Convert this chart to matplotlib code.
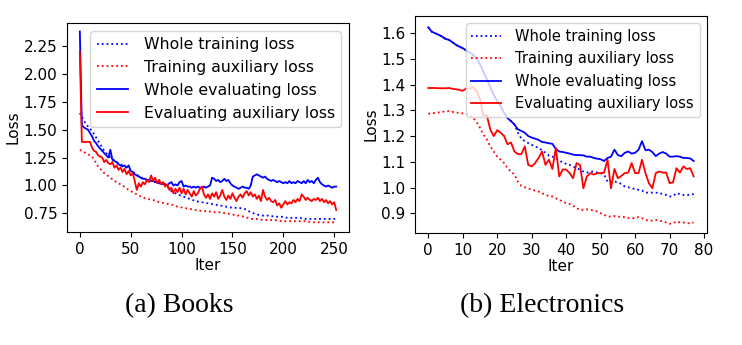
import numpy as np
import matplotlib
matplotlib.use("Agg")
import matplotlib.pyplot as plt

# Books: evaluation curves logged every 2 iterations
books_eval_iter = np.arange(0, 253, 2)
books_whole_eval = [
    2.38, 1.54, 1.52, 1.51, 1.50,
    1.47, 1.44, 1.40, 1.38, 1.35,
    1.33, 1.31, 1.29, 1.27, 1.25,
    1.32, 1.23, 1.22, 1.21, 1.19,
    1.18, 1.17, 1.18, 1.16, 1.18,
    1.13, 1.12, 1.10, 1.09, 1.08,
    1.07, 1.06, 1.06, 1.05, 1.05,
    1.04, 1.04, 1.03, 1.03, 1.02,
    1.02, 1.01, 1.01, 1.00, 1.02,
    1.03, 1.00, 1.01, 1.00, 1.03,
    1.04, 0.99, 1.00, 0.99, 0.99,
    0.98, 0.99, 0.98, 0.99, 0.98,
    0.98, 0.99, 0.98, 0.99, 1.00,
    1.07, 1.06, 1.04, 1.05, 1.03,
    1.04, 1.06, 1.04, 1.05, 1.02,
    1.00, 0.99, 0.98, 0.97, 0.98,
    0.99, 0.98, 0.98, 0.97, 1.00,
    1.08, 1.09, 1.10, 1.09, 1.08,
    1.07, 1.08, 1.06, 1.05, 1.04,
    1.05, 1.04, 1.03, 1.04, 1.03,
    1.02, 1.03, 1.02, 1.04, 1.02,
    1.03, 1.02, 1.04, 1.03, 1.02,
    1.04, 1.02, 1.05, 1.03, 1.04,
    1.02, 1.05, 1.07, 1.03, 1.01,
    1.00, 0.99, 1.00, 0.99, 0.98,
    0.99, 0.99,
]
books_aux_eval = [
    2.20, 1.39, 1.39, 1.39, 1.39,
    1.39, 1.34, 1.31, 1.30, 1.27,
    1.26, 1.25, 1.21, 1.23, 1.20,
    1.19, 1.21, 1.16, 1.18, 1.14,
    1.16, 1.12, 1.15, 1.10, 1.13,
    1.09, 1.11, 1.04, 0.96, 1.02,
    0.99, 1.03, 1.01, 1.05, 1.03,
    1.09, 1.04, 1.07, 1.02, 1.05,
    1.01, 1.03, 0.99, 1.01, 0.96,
    0.98, 0.93, 0.97, 0.94, 0.98,
    0.93, 0.97, 0.92, 0.96, 0.93,
    0.90, 0.95, 0.91, 0.93, 0.97,
    0.99, 0.92, 0.89, 0.92, 0.88,
    0.93, 0.90, 0.94, 0.88, 0.91,
    0.96, 0.90, 0.87, 0.91, 0.88,
    0.93, 0.89, 0.86, 0.90, 0.92,
    0.89, 0.93, 0.95, 0.91, 0.94,
    0.90, 0.92, 0.88, 0.91, 0.86,
    0.96, 0.90, 0.87, 0.89, 0.86,
    0.85, 0.87, 0.82, 0.84, 0.80,
    0.83, 0.86, 0.83, 0.85, 0.84,
    0.87, 0.85, 0.88, 0.86, 0.92,
    0.90, 0.87, 0.89, 0.87, 0.86,
    0.88, 0.87, 0.89, 0.86, 0.88,
    0.85, 0.87, 0.84, 0.86, 0.83,
    0.85, 0.78,
]

# Books: training curves, every 6 iterations
books_train_iter = np.arange(0, 253, 6)
books_whole_train = [
    1.65, 1.55, 1.49, 1.40, 1.31, 1.25, 1.21, 1.18, 1.15, 1.11,
    1.07, 1.05, 1.04, 1.02, 1.01, 0.95, 0.92, 0.90, 0.88, 0.86,
    0.85, 0.84, 0.83, 0.82, 0.81, 0.80, 0.80, 0.79, 0.76, 0.74,
    0.73, 0.73, 0.72, 0.72, 0.71, 0.71, 0.71, 0.70, 0.70, 0.70,
    0.70, 0.70, 0.70,
]
books_aux_train = [
    1.32, 1.29, 1.26, 1.17, 1.11, 1.07, 1.03, 1.00, 0.96, 0.93,
    0.90, 0.88, 0.87, 0.85, 0.84, 0.83, 0.81, 0.80, 0.79, 0.78,
    0.77, 0.77, 0.76, 0.76, 0.75, 0.74, 0.73, 0.72, 0.70, 0.70,
    0.69, 0.69, 0.69, 0.68, 0.68, 0.68, 0.68, 0.68, 0.67, 0.67,
    0.67, 0.67, 0.67,
]

# Electronics: every iteration
elec_iter = np.arange(78)
elec_whole_eval = [
    1.623, 1.606, 1.600, 1.594, 1.587, 1.578, 1.574, 1.565, 1.555, 1.548,
    1.542, 1.533, 1.525, 1.516, 1.503, 1.480, 1.450, 1.420, 1.390, 1.360,
    1.335, 1.317, 1.290, 1.270, 1.258, 1.245, 1.226, 1.220, 1.213, 1.200,
    1.194, 1.190, 1.185, 1.177, 1.175, 1.172, 1.170, 1.150, 1.140, 1.138,
    1.135, 1.132, 1.128, 1.126, 1.126, 1.125, 1.120, 1.120, 1.115, 1.112,
    1.110, 1.103, 1.115, 1.120, 1.147, 1.126, 1.122, 1.135, 1.140, 1.132,
    1.135, 1.147, 1.180, 1.145, 1.147, 1.138, 1.122, 1.132, 1.138, 1.132,
    1.120, 1.120, 1.122, 1.120, 1.115, 1.115, 1.113, 1.103,
]
elec_aux_eval = [
    1.387, 1.387, 1.387, 1.386, 1.386, 1.386, 1.387, 1.384, 1.382, 1.380,
    1.376, 1.385, 1.385, 1.390, 1.376, 1.344, 1.280, 1.280, 1.225, 1.200,
    1.223, 1.213, 1.200, 1.168, 1.175, 1.140, 1.130, 1.130, 1.160, 1.088,
    1.082, 1.095, 1.115, 1.140, 1.088, 1.108, 1.072, 1.153, 1.043, 1.070,
    1.070, 1.056, 1.036, 1.095, 1.088, 0.997, 1.043, 1.056, 1.050, 1.056,
    1.056, 1.058, 1.108, 0.997, 1.072, 1.036, 1.045, 1.056, 1.058, 1.095,
    1.056, 1.056, 1.108, 1.056, 1.017, 0.997, 1.056, 1.062, 1.058, 1.058,
    1.017, 1.020, 1.075, 1.058, 1.082, 1.072, 1.075, 1.043,
]
elec_whole_train = [
    1.623, 1.606, 1.600, 1.594, 1.587, 1.578, 1.574, 1.565, 1.555, 1.548,
    1.542, 1.533, 1.525, 1.516, 1.503, 1.480, 1.450, 1.420, 1.390, 1.360,
    1.335, 1.317, 1.290, 1.270, 1.258, 1.245, 1.213, 1.190, 1.180, 1.173,
    1.166, 1.160, 1.153, 1.145, 1.135, 1.124, 1.120, 1.114, 1.105, 1.097,
    1.092, 1.088, 1.082, 1.075, 1.070, 1.062, 1.058, 1.062, 1.062, 1.058,
    1.056, 1.050, 1.023, 1.020, 1.023, 1.020, 1.014, 1.004, 1.001, 0.997,
    0.994, 0.991, 0.988, 0.980, 0.980, 0.980, 0.980, 0.978, 0.975, 0.971,
    0.965, 0.967, 0.978, 0.974, 0.971, 0.971, 0.971, 0.975,
]
elec_aux_train = [
    1.287, 1.288, 1.290, 1.292, 1.294, 1.296, 1.297, 1.294, 1.292, 1.290,
    1.288, 1.288, 1.284, 1.271, 1.255, 1.232, 1.206, 1.187, 1.160, 1.140,
    1.120, 1.108, 1.095, 1.075, 1.062, 1.050, 1.023, 1.006, 1.001, 0.997,
    0.991, 0.988, 0.984, 0.978, 0.971, 0.967, 0.965, 0.958, 0.952, 0.945,
    0.939, 0.936, 0.929, 0.920, 0.913, 0.913, 0.915, 0.913, 0.910, 0.907,
    0.900, 0.894, 0.887, 0.887, 0.889, 0.887, 0.885, 0.885, 0.881, 0.881,
    0.881, 0.885, 0.881, 0.874, 0.871, 0.871, 0.874, 0.871, 0.868, 0.864,
    0.859, 0.861, 0.868, 0.864, 0.864, 0.861, 0.861, 0.864,
]

legend_labels = ["Whole training loss", "Training auxiliary loss",
                 "Whole evaluating loss", "Evaluating auxiliary loss"]


def draw_panel(ax, train_x, whole_train, aux_train, eval_x, whole_eval, aux_eval,
               legend_size=11.3):
    lw = 1.3
    ax.plot(train_x, whole_train, color="blue", linestyle=":", lw=lw, label=legend_labels[0])
    ax.plot(train_x, aux_train, color="red", linestyle=":", lw=lw, label=legend_labels[1])
    ax.plot(eval_x, whole_eval, color="blue", lw=lw, label=legend_labels[2])
    ax.plot(eval_x, aux_eval, color="red", lw=lw, label=legend_labels[3])
    ax.set_xlabel("Iter", labelpad=1)
    ax.set_ylabel("Loss", labelpad=2)
    ax.legend(loc="upper right", fontsize=legend_size, handletextpad=1.0)


def main():
    plt.rcParams["font.size"] = 11
    fig = plt.figure(figsize=(7.42, 3.45), dpi=100)

    ax1 = fig.add_axes([0.0903, 0.3275, 0.3801, 0.6058])
    draw_panel(ax1, books_train_iter, books_whole_train, books_aux_train,
               books_eval_iter, books_whole_eval, books_aux_eval)
    ax1.set_xticks(np.arange(0, 251, 50))
    ax1.set_yticks(np.arange(0.75, 2.3, 0.25))
    ax1.set_ylim(0.583, 2.456)

    ax2 = fig.add_axes([0.5593, 0.3246, 0.3935, 0.6290])
    draw_panel(ax2, elec_iter, elec_whole_train, elec_aux_train,
               elec_iter, elec_whole_eval, elec_aux_eval, legend_size=10.5)
    ax2.set_xticks(np.arange(0, 81, 10))
    ax2.set_yticks(np.arange(0.9, 1.65, 0.1))
    ax2.set_ylim(0.823, 1.667)

    fig.text(0.242, 0.113, "(a) Books", ha="center", va="center",
             family="Liberation Serif", fontsize=20)
    fig.text(0.730, 0.113, "(b) Electronics", ha="center", va="center",
             family="Liberation Serif", fontsize=20)

    fig.savefig("out.png", dpi=100)


if __name__ == "__main__":
    main()
